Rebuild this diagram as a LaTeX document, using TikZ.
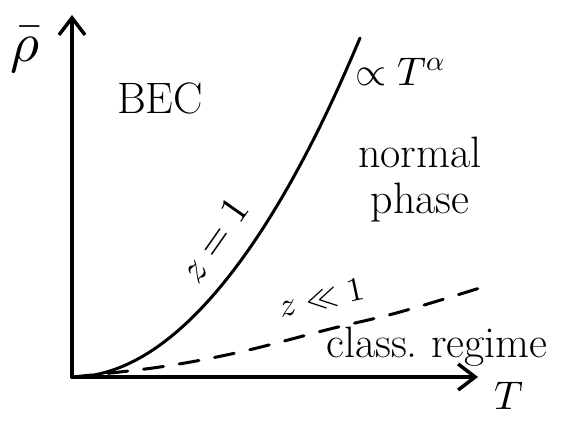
\documentclass[tikz,border=0pt]{standalone}
\usepackage{unicode-math}
\usetikzlibrary{arrows.meta,positioning}

\begin{document}
\begin{tikzpicture}[x=1pt,y=-1pt,line cap=round,line join=round,
      axis line/.style={line width=3.5pt,-{Straight Barb[length=17pt,width=26pt,line width=3.5pt]}},
      phase line/.style={line width=3pt},
      regime line/.style={line width=3pt,dash pattern=on 20pt off 16pt},
      hand text/.style={inner sep=0pt,font=\fontsize{44}{50}\selectfont}]
      \useasboundingbox (0,0) rectangle (569,420);

      % axes
      \coordinate (o) at (72,377);
      \coordinate (ytip) at (72,15);
      \coordinate (xtip) at (478,377);
      \draw[axis line] (o) -- (ytip);
      \draw[axis line] (o) -- (xtip);

      % phase boundary z=1 and classical line
      \coordinate (ctop) at (360,38);
      \coordinate (dend) at (483,287);
      \draw[phase line] (o) parabola (ctop);
      \draw[regime line] plot[smooth,tension=0.6] coordinates
        {(o) (160,367) (240,352) (330,329) (400,312) (dend)};

      % labels
      \node[hand text,font=\fontsize{56}{60}\selectfont] (rho) at (25,50) {$\bar{\rho}$};
      \node[hand text] (bec) at (160,98) {BEC};
      \node[hand text,font=\fontsize{40}{44}\selectfont] (power) at (400,72) {$\propto T^{\alpha}$};
      \node[hand text,align=center] (normal) at (420,180) {normal\\[-4pt]phase};
      \node[hand text,font=\fontsize{40}{44}\selectfont,rotate=55] (zone) at (214,240) {$z=1$};
      \node[hand text,font=\fontsize{34}{38}\selectfont,rotate=12] (zsmall) at (322,298) {$z\ll1$};
      \node[hand text] (classical) at (437,347) {class.\ regime};
      \node[hand text,font=\fontsize{40}{44}\selectfont] (tlabel) at (509,396) {$T$};
\end{tikzpicture}
\end{document}
